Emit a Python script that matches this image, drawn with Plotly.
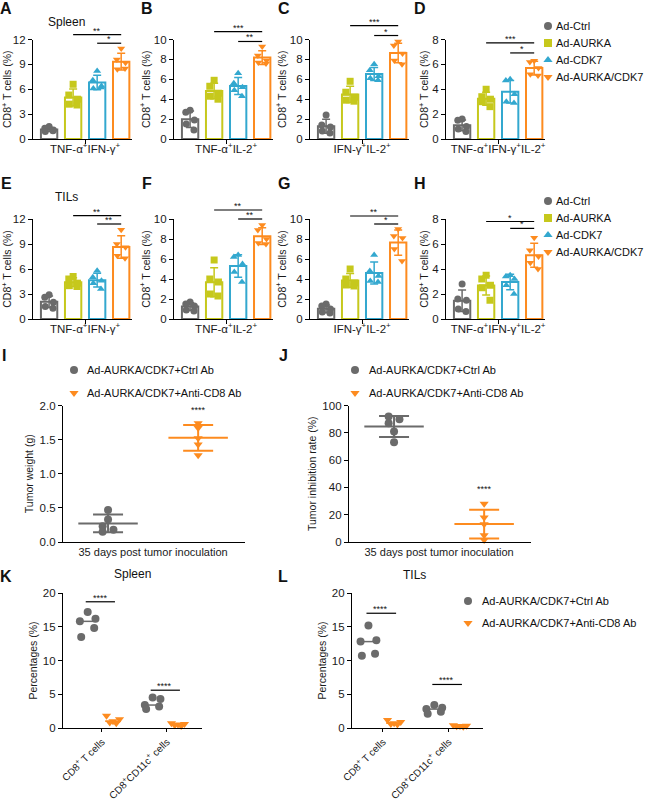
import numpy as np
import plotly.graph_objects as go

W, H = 647, 801
FONT = 'Liberation Sans, Arial, sans-serif'

# groups for panels A-H
groups = ['Ad-Ctrl', 'Ad-AURKA', 'Ad-CDK7', 'Ad-AURKA/CDK7']
group_colors = ['#6b6b6b', '#c6c81c', '#33a8cf', '#fd8b1f']
group_symbols = ['circle', 'square', 'triangle-up', 'triangle-down']

cat_tnf_ifn = 'TNF-α<sup>+</sup>IFN-γ<sup>+</sup>'
cat_tnf_il2 = 'TNF-α<sup>+</sup>IL-2<sup>+</sup>'
cat_ifn_il2 = 'IFN-γ<sup>+</sup>IL-2<sup>+</sup>'
cat_triple = 'TNF-α<sup>+</sup>IFN-γ<sup>+</sup>IL-2<sup>+</sup>'

# CD8+ T cells (%), one list per group: Ctrl, AURKA, CDK7, AURKA/CDK7
spleen_tnf_ifn = [[1.5, 1.3, 1.1, 0.9, 1.0], [6.6, 5.3, 4.8, 4.2, 4.1],
                  [8.2, 7.1, 6.4, 6.1, 6.2], [10.9, 9.6, 9.2, 8.4, 8.5]]
spleen_tnf_il2 = [[2.9, 2.7, 1.9, 1.5, 0.9], [5.9, 5.3, 4.6, 4.3, 4.0],
                  [6.6, 5.6, 5.2, 4.9, 4.3], [9.3, 8.4, 7.9, 7.7, 7.6]]
spleen_ifn_il2 = [[2.4, 1.4, 1.2, 0.8, 0.6], [5.8, 4.7, 4.2, 3.9, 3.8],
                  [7.5, 6.9, 6.3, 6.1, 5.9], [9.8, 9.4, 8.6, 7.9, 7.5]]
spleen_triple = [[1.6, 1.5, 1.0, 0.8, 0.6], [4.0, 3.4, 3.2, 3.0, 2.6],
                 [4.8, 4.7, 3.6, 3.0, 2.9], [6.3, 6.2, 5.7, 5.2, 5.1]]
tils_tnf_ifn = [[2.9, 2.6, 2.0, 1.5, 1.3], [5.1, 4.8, 4.3, 4.0, 3.9],
                [5.8, 5.0, 4.6, 4.3, 3.6], [10.7, 9.0, 8.6, 7.6, 7.3]]
tils_tnf_il2 = [[1.7, 1.5, 1.3, 0.9, 0.8], [5.9, 4.0, 3.7, 2.5, 2.3],
                [6.4, 6.2, 5.5, 4.7, 3.7], [9.4, 8.9, 8.0, 7.6, 7.5]]
tils_ifn_il2 = [[1.5, 1.3, 1.0, 0.7, 0.6], [5.0, 4.0, 3.6, 3.4, 3.3],
                [6.4, 4.8, 4.3, 3.8, 3.7], [9.0, 8.3, 8.1, 7.0, 5.8]]
tils_triple = [[2.8, 1.6, 1.5, 0.8, 0.6], [3.5, 3.2, 2.7, 2.5, 1.5],
               [3.5, 3.4, 3.2, 2.7, 2.0], [6.5, 5.5, 5.0, 4.5, 4.0]]

# significance: (from group, to group, height, stars)
sig_a = [(1, 3, 12.6, '**'), (2, 3, 11.55, '*')]
sig_b = [(1, 3, 10.8, '***'), (2, 3, 9.8, '**')]
sig_c = [(1, 3, 11.4, '***'), (2, 3, 10.4, '*')]
sig_d = [(1, 3, 7.73, '***'), (2, 3, 6.92, '*')]
sig_e = [(1, 3, 12.4, '**'), (2, 3, 11.4, '**')]
sig_f = [(1, 3, 10.9, '**'), (2, 3, 10.0, '**')]
sig_g = [(1, 3, 10.3, '**'), (2, 3, 9.5, '*')]
sig_h = [(1, 3, 7.8, '*'), (2, 3, 7.25, '*')]

# panels I-L
ab_groups = ['Ad-AURKA/CDK7+Ctrl Ab', 'Ad-AURKA/CDK7+Anti-CD8 Ab']
ab_colors = ['#6b6b6b', '#fd8b1f']
ab_symbols = ['circle', 'triangle-down']

tumor_weight = [[0.47, 0.33, 0.23, 0.18, 0.15], [1.74, 1.67, 1.52, 1.43, 1.27]]
inhibition_rate = [[92, 90, 87, 81, 73], [28, 18, 13, 5, 1.5]]

kl_cats = ['CD8<sup>+</sup> T cells', 'CD8<sup>+</sup>CD11c<sup>+</sup> cells']
spleen_ctrl_ab = [[17.2, 16.2, 15.8, 14.8, 13.5], [4.5, 4.3, 3.4, 3.2, 2.8]]
spleen_anti_cd8 = [[1.8, 1.3, 1.0, 0.8, 0.7], [0.7, 0.6, 0.5, 0.4, 0.3]]
tils_ctrl_ab = [[15.2, 13.0, 12.8, 11.0, 10.7], [3.4, 3.0, 2.8, 2.4, 2.1]]
tils_anti_cd8 = [[1.2, 0.9, 0.7, 0.6, 0.5], [0.4, 0.35, 0.3, 0.25, 0.2]]
sig_k = [18.7, 5.6]
sig_l = [17.0, 6.45]


def fx(p):
    return p / W


def fy(p):
    return 1 - p / H


def names(n):
    s = '' if n == 1 else str(n)
    return 'x' + s, 'y' + s, 'xaxis' + s, 'yaxis' + s


axis_style = dict(showline=True, linecolor='black', linewidth=1.3, ticks='outside',
                  ticklen=4, tickwidth=1.3, tickcolor='black', showgrid=False,
                  zeroline=False, fixedrange=True, automargin=False,
                  tickfont=dict(size=11.5, color='#1a1a1a', family=FONT))

fig = go.Figure()
layout = {}
shapes = []
annotations = []


def add_text(x, y, text, size=11.5, bold=False, xanchor='center', yanchor='middle'):
    if bold:
        text = '<b>' + text + '</b>'
    annotations.append(dict(xref='paper', yref='paper', x=fx(x), y=fy(y), text=text,
                            showarrow=False, xanchor=xanchor, yanchor=yanchor,
                            font=dict(size=size, color='#111', family=FONT)))


# ---- bar panels A-H ----
bar_cols = [(33, 132), (174, 273), (310, 409), (446, 545)]
bar_rows = [(139, 39.5), (319, 219)]
bar_panels = [
    (spleen_tnf_ifn, cat_tnf_ifn, 12, 3, sig_a), (spleen_tnf_il2, cat_tnf_il2, 10, 2, sig_b),
    (spleen_ifn_il2, cat_ifn_il2, 10, 2, sig_c), (spleen_triple, cat_triple, 8, 2, sig_d),
    (tils_tnf_ifn, cat_tnf_ifn, 12, 3, sig_e), (tils_tnf_il2, cat_tnf_il2, 10, 2, sig_f),
    (tils_ifn_il2, cat_ifn_il2, 10, 2, sig_g), (tils_triple, cat_triple, 8, 2, sig_h),
]
bar_jitter = np.array([0.0, -0.18, 0.18, -0.16, 0.16])

for k, (data, cat, ymax, dtick, sigs) in enumerate(bar_panels):
    n = k + 1
    xr, yr, xa, ya = names(n)
    x0, x1 = bar_cols[k % 4]
    yb, yt = bar_rows[k // 4]
    layout[xa] = dict(axis_style, domain=[fx(x0), fx(x1)], anchor=yr, range=[-0.67, 3.45],
                      tickvals=[1.5], ticktext=[cat], ticklabelstandoff=-5)
    layout[ya] = dict(axis_style, domain=[fy(yb), fy(yt)], anchor=xr, range=[0, ymax],
                      dtick=dtick,
                      title=dict(text='CD8<sup>+</sup> T cells (%)', standoff=1,
                                 font=dict(size=10.5, color='#1a1a1a', family=FONT)))
    for gi, vals in enumerate(data):
        vals = np.array(vals)
        fig.add_trace(go.Bar(x=[gi], y=[vals.mean()], width=0.68, xaxis=xr, yaxis=yr,
                             marker=dict(color='white', line=dict(color=group_colors[gi], width=2)),
                             error_y=dict(type='data', array=[vals.std(ddof=1)],
                                          color=group_colors[gi], thickness=1.5, width=4)))
        fig.add_trace(go.Scatter(x=gi + bar_jitter, y=vals, mode='markers', xaxis=xr, yaxis=yr,
                                 cliponaxis=False,
                                 marker=dict(symbol=group_symbols[gi], size=7,
                                             color=group_colors[gi])))
    for g0, g1, h, stars in sigs:
        shapes.append(dict(type='line', xref=xr, yref=yr + ' domain', x0=g0, x1=g1,
                           y0=h / ymax, y1=h / ymax, line=dict(color='black', width=1.2)))
        annotations.append(dict(xref=xr, yref=yr + ' domain', x=(g0 + g1) / 2, y=h / ymax,
                                text=stars, showarrow=False, yanchor='bottom', yshift=-3,
                                font=dict(size=9, color='#111', family=FONT)))

# ---- panels I and J ----
ij_panels = [
    (9, tumor_weight, (63, 245), 2.0, 0.5, '.1f', 'Tumor weight (g)', 1.87,
     [np.array([0, 0, -0.06, 0.06, -0.06]), np.zeros(5)]),
    (10, inhibition_rate, (349, 531), 100, 20, '', 'Tumor inhibition rate (%)', 36,
     [np.array([-0.06, 0.06, -0.06, 0, 0]), np.zeros(5)]),
]
for n, data, (x0, x1), ymax, dtick, fmt, ytitle, star_y, jit in ij_panels:
    xr, yr, xa, ya = names(n)
    layout[xa] = dict(axis_style, domain=[fx(x0), fx(x1)], anchor=yr, range=[-0.5, 1.52],
                      tickvals=[0.5], ticktext=['35 days post tumor inoculation'], ticks='',
                      tickfont=dict(size=11, color='#1a1a1a', family=FONT))
    layout[ya] = dict(axis_style, domain=[fy(542), fy(405.5)], anchor=xr, range=[0, ymax],
                      dtick=dtick, tickformat=fmt,
                      title=dict(text=ytitle, standoff=3,
                                 font=dict(size=10.5, color='#1a1a1a', family=FONT)))
    for gi, vals in enumerate(data):
        vals = np.array(vals, dtype=float)
        m, s = vals.mean(), vals.std(ddof=1)
        col = ab_colors[gi]
        fig.add_trace(go.Scatter(x=[gi - 0.33, gi + 0.33], y=[m, m], mode='lines',
                                 xaxis=xr, yaxis=yr, line=dict(color=col, width=2)))
        fig.add_trace(go.Scatter(x=[gi], y=[m], mode='markers', xaxis=xr, yaxis=yr,
                                 marker=dict(size=1, opacity=0),
                                 error_y=dict(type='data', array=[s], color=col,
                                              thickness=2, width=15)))
        fig.add_trace(go.Scatter(x=gi + jit[gi], y=vals, mode='markers', xaxis=xr, yaxis=yr,
                                 cliponaxis=False,
                                 marker=dict(symbol=ab_symbols[gi], size=8, color=col)))
    annotations.append(dict(xref=xr, yref=yr, x=1, y=star_y, text='****', showarrow=False,
                            yanchor='bottom', yshift=-3,
                            font=dict(size=9, color='#111', family=FONT)))

# ---- panels K and L ----
kl_panels = [
    (11, spleen_ctrl_ab, spleen_anti_cd8, (63, 202), [-0.6, 1.54], sig_k),
    (12, tils_ctrl_ab, tils_anti_cd8, (352, 483), [-0.47, 1.52], sig_l),
]
kl_jitter = [np.array([0, 0.12, -0.12, 0.1, -0.1]), np.array([-0.1, 0.1, 0.0, -0.05, 0.05])]
kl_offset = [-0.22, 0.17]
for n, ctrl, anti, (x0, x1), xrange, sigs in kl_panels:
    xr, yr, xa, ya = names(n)
    layout[xa] = dict(axis_style, domain=[fx(x0), fx(x1)], anchor=yr, range=xrange,
                      tickvals=[0, 1], ticktext=kl_cats, tickangle=-45, ticklen=3,
                      tickfont=dict(size=10, color='#1a1a1a', family=FONT))
    layout[ya] = dict(axis_style, domain=[fy(728), fy(593)], anchor=xr, range=[0, 20], dtick=5,
                      title=dict(text='Percentages (%)', standoff=3,
                                 font=dict(size=10.5, color='#1a1a1a', family=FONT)))
    for ci in range(2):
        for gi, series in enumerate([ctrl, anti]):
            vals = np.array(series[ci])
            cx = ci + kl_offset[gi]
            med = np.median(vals)
            fig.add_trace(go.Scatter(x=[cx - 0.12, cx + 0.12], y=[med, med], mode='lines',
                                     xaxis=xr, yaxis=yr,
                                     line=dict(color=ab_colors[gi], width=1.5)))
            fig.add_trace(go.Scatter(x=cx + kl_jitter[gi], y=vals, mode='markers',
                                     xaxis=xr, yaxis=yr, cliponaxis=False,
                                     marker=dict(symbol=ab_symbols[gi], size=8,
                                                 color=ab_colors[gi])))
        shapes.append(dict(type='line', xref=xr, yref=yr, x0=ci - 0.25, x1=ci + 0.2,
                           y0=sigs[ci], y1=sigs[ci], line=dict(color='black', width=1.2)))
        annotations.append(dict(xref=xr, yref=yr, x=ci - 0.03, y=sigs[ci], text='****',
                                showarrow=False, yanchor='bottom', yshift=-3,
                                font=dict(size=9, color='#111', family=FONT)))

# ---- legend keys on a hidden full-page overlay axis ----
layout['xaxis13'] = dict(domain=[0, 1], range=[0, W], visible=False, fixedrange=True,
                         anchor='y13', automargin=False)
layout['yaxis13'] = dict(domain=[0, 1], range=[H, 0], visible=False, fixedrange=True,
                         anchor='x13', automargin=False)
legend_blocks = [
    (548, 554, [26, 43, 60, 77], groups, group_colors, group_symbols, 11),
    (548, 554, [201, 218, 235, 252], groups, group_colors, group_symbols, 11),
    (74, 85, [370, 393], ab_groups, ab_colors, ab_symbols, 11),
    (355, 367, [370, 393], ab_groups, ab_colors, ab_symbols, 11),
    (468, 480, [601, 623], ab_groups, ab_colors, ab_symbols, 11),
]
for mx, tx, ys, labels, cols, syms, fs in legend_blocks:
    fig.add_trace(go.Scatter(x=[mx] * len(ys), y=ys, mode='markers', xaxis='x13', yaxis='y13',
                             cliponaxis=False,
                             marker=dict(symbol=syms, size=8, color=cols)))
    for y, lab in zip(ys, labels):
        add_text(tx, y, lab, size=fs, xanchor='left')

# panel letters and tissue titles
for lab, x, y in [('A', 6, 8), ('B', 147, 8), ('C', 284, 8), ('D', 420, 8),
                  ('E', 6, 183), ('F', 147, 183), ('G', 284, 183), ('H', 420, 183),
                  ('I', 4, 355), ('J', 283, 355), ('K', 6, 576), ('L', 283, 576)]:
    add_text(x, y, lab, size=16, bold=True)
add_text(66, 22, 'Spleen', size=12)
add_text(66, 197, 'TILs', size=12)
add_text(132, 574, 'Spleen', size=12)
add_text(414, 575, 'TILs', size=12)

# transparent plot areas so the full-page legend overlay does not hide the panels
fig.update_layout(width=W, height=H, margin=dict(l=0, r=0, t=0, b=0, autoexpand=False),
                  paper_bgcolor='white', plot_bgcolor='rgba(0,0,0,0)', showlegend=False,
                  barmode='overlay', font=dict(family=FONT, color='#111'),
                  shapes=shapes, annotations=annotations, **layout)
# drop the default page margin so the figure sits at the window's top-left corner
fig.write_html("out.html", config={'displayModeBar': False},
               post_script="document.body.style.margin = '0';")
